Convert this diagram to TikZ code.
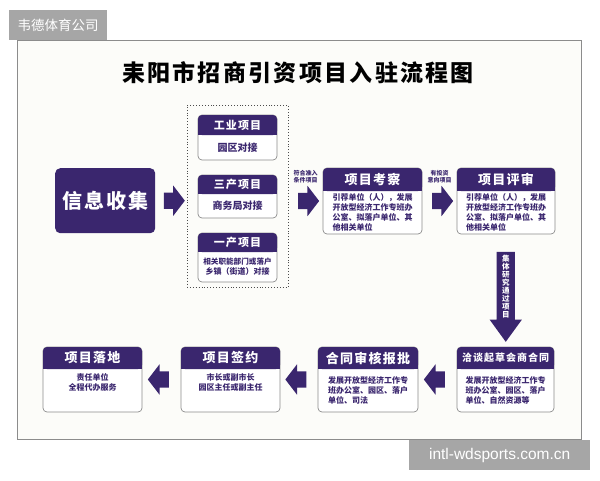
\documentclass[tikz,border=0pt]{standalone}
\usepackage{fontspec}
\setmainfont{Noto Sans CJK SC}
\newfontfamily\hdfont{Noto Sans CJK SC}[LetterSpace=10]
\newfontfamily\urlfont{Liberation Sans}
\usetikzlibrary{calc,positioning,shapes.arrows}
\definecolor{purp}{RGB}{58,38,110}
\definecolor{wmgray}{RGB}{166,166,166}
\definecolor{framegray}{RGB}{140,140,140}
\definecolor{paper}{RGB}{252,252,249}

\tikzset{
  cardframe/.style={draw=framegray,fill=white,line width=0.7pt,rounded corners=4pt,inner sep=0,outer sep=0},
  cardtitle/.style={text=white,font=\hdfont\bfseries\fontsize{13}{13}\selectfont,inner sep=0},
  cardtext/.style={text=purp,font=\bfseries\fontsize{8}{10.2}\selectfont,align=left,inner sep=0},
  fatarrow/.style={single arrow,fill=purp,inner xsep=0,inner ysep=8pt,outer sep=0,minimum height=21pt,single arrow head extend=7pt,single arrow tip angle=105},
  smalllabel/.style={text=purp,font=\bfseries\fontsize{6}{7}\selectfont,align=center,inner sep=0}
}

% card: [body style] name, top-left corner, width, height, header height, title, body
\newcommand{\card}[8][]{%
  \node[cardframe,minimum width=#4pt,minimum height=#5pt,anchor=north west] (#2) at (#3) {};
  \fill[purp,rounded corners=4pt] (#2.north west) rectangle ($(#2.north east)+(0,#6)$);
  \fill[purp] ($(#2.north west)+(0,#6/2)$) rectangle ($(#2.north east)+(0,#6)$);
  \node[cardtitle] (#2-t) at ($(#2.north)+(0,#6/2)$) {#7};
  \node[cardtext,#1] (#2-b) at ($(#2.north)+(0,{(#5+#6)/2})$) {#8};
}

\begin{document}
\begin{tikzpicture}[x=1pt,y=-1pt]
\useasboundingbox (0,0) rectangle (600,480);
\draw[framegray,fill=paper,line width=0.8pt] (17,40) rectangle (581,439);
\node[fill=wmgray,text=white,minimum width=98pt,minimum height=30pt,inner sep=0,anchor=north west,font=\fontsize{13.5}{14}\selectfont] (wm1) at (9,10) {韦德体育公司};
\node[fill=wmgray,text=white,minimum width=181pt,minimum height=30pt,inner sep=0,anchor=north west,font=\urlfont\fontsize{15.5}{16}\selectfont] (wm2) at (409,440) {intl-wdsports.com.cn};

\node[font=\hdfont\bfseries\fontsize{23}{23}\selectfont] (title) at (298,73) {耒阳市招商引资项目入驻流程图};

% first row
\node[fill=purp,rounded corners=5pt,minimum width=100pt,minimum height=65pt,anchor=north west,text=white,
  font=\hdfont\bfseries\fontsize{20}{20}\selectfont] (info) at (55,168) {信息收集};
\node[draw=black!70,dotted,line width=0.9pt,minimum width=101pt,minimum height=182pt,anchor=north west,outer sep=0] (grp) at (187,105) {};

\card[align=center]{gongye}{198,115}{79}{45}{20}{\fontsize{11}{11}\selectfont 工业项目}{\fontsize{10}{10}\selectfont 园区对接}
\card[align=center]{sanchan}{198,175}{79}{43}{19}{\fontsize{11}{11}\selectfont 三产项目}{\fontsize{10}{10}\selectfont 商务局对接}
\card[align=center]{yichan}{198,233}{79}{49}{19}{\fontsize{11}{11}\selectfont 一产项目}{\fontsize{7.6}{10}\selectfont 相关职能部门或落户\\乡镇（街道）对接}

\card{kaocha}{323,168}{99}{66}{23}{项目考察}{引荐单位（人），发展\\开放型经济工作专班办\\公室、拟落户单位、其\\他相关单位}
\card{pingshen}{457,168}{98}{66}{23}{项目评审}{引荐单位（人），发展\\开放型经济工作专班办\\公室、拟落户单位、其\\他相关单位}

\node[fatarrow] (a1) at ($(info.east)!0.5!(grp.west |- info.east)$) {};
\node[fatarrow] (a2) at ($(grp.east |- kaocha.center)!0.5!(kaocha.west)$) {};
\node[fatarrow] (a3) at ($(kaocha.east)!0.5!(pingshen.west)$) {};
\node[smalllabel,above=10pt of a2] (lab2) {符合准入\\条件项目};
\node[smalllabel,above=10pt of a3] (lab3) {有投资\\意向项目};

% second row
\card{qiatan}{457,347}{97}{65}{22}{\fontsize{10}{10}\selectfont 洽谈起草会商合同}{发展开放型经济工作专\\班办公室、园区、落户\\单位、自然资源等}
\card{hetong}{318,347}{100}{65}{22}{合同审核报批}{发展开放型经济工作专\\班办公室、园区、落户\\单位、司法}
\card[align=center,yshift=8pt]{qianyue}{181,347}{99}{65}{22}{项目签约}{市长或副市长\\园区主任或副主任}
\card[align=center,yshift=8pt]{luodi}{43,347}{99}{65}{22}{项目落地}{责任单位\\全程代办服务}

\node[fatarrow,shape border rotate=270,inner xsep=9pt,inner ysep=0,minimum height=90pt,single arrow head extend=7pt,single arrow tip angle=72] (adown) at ($(pingshen.south)!0.5!(qiatan.north)$) {};
\node[text=white,font=\bfseries\fontsize{7.5}{8.1}\selectfont,align=center,inner sep=0] (vtext) at ($(adown.center)+(0,-4)$) {集\\体\\研\\究\\通\\过\\项\\目};

\node[fatarrow,shape border rotate=180] (a5) at ($(qiatan.west)!0.5!(hetong.east)$) {};
\node[fatarrow,shape border rotate=180] (a6) at ($(hetong.west)!0.5!(qianyue.east)$) {};
\node[fatarrow,shape border rotate=180] (a7) at ($(qianyue.west)!0.5!(luodi.east)$) {};
\end{tikzpicture}
\end{document}
